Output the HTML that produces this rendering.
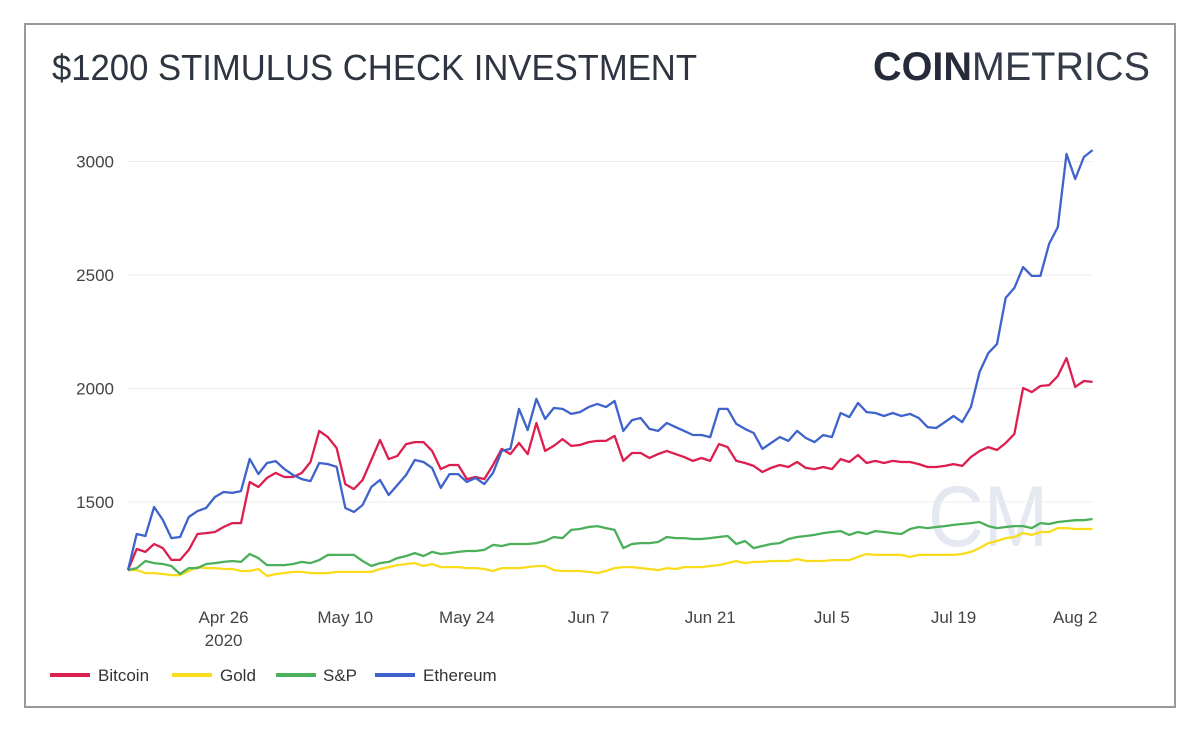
<!DOCTYPE html>
<html><head><meta charset="utf-8"><style>
body{margin:0;background:#fff;width:1200px;height:732px;overflow:hidden;font-family:"Liberation Sans",sans-serif}
</style></head><body>
<svg width="1200" height="732" viewBox="0 0 1200 732">
<rect x="25" y="24" width="1150" height="683" fill="#fff" stroke="#999" stroke-width="2"/>
<text x="52" y="80" font-size="36" fill="#2e3440" textLength="645" lengthAdjust="spacingAndGlyphs">$1200 STIMULUS CHECK INVESTMENT</text>
<text x="873" y="80" font-size="40" fill="#262b3a" textLength="277" lengthAdjust="spacingAndGlyphs"><tspan font-weight="bold">COIN</tspan><tspan font-weight="normal" fill="#353a48">METRICS</tspan></text>
<text x="928" y="546" font-size="86" fill="#e4e8f0" textLength="120" lengthAdjust="spacingAndGlyphs">CM</text>
<g id="grid"></g><g id="ylab"></g><g id="xlab"></g><g id="series"></g>
<g>
<line x1="50" y1="675" x2="90" y2="675" stroke="#dc1f4e" stroke-width="4"/>
<text x="98" y="681" font-size="17" fill="#333">Bitcoin</text>
<line x1="172" y1="675" x2="212" y2="675" stroke="#f9dd1c" stroke-width="4"/>
<text x="220" y="681" font-size="17" fill="#333">Gold</text>
<line x1="276" y1="675" x2="316" y2="675" stroke="#4caf5a" stroke-width="4"/>
<text x="323" y="681" font-size="17" fill="#333">S&amp;P</text>
<line x1="375" y1="675" x2="415" y2="675" stroke="#3f63cc" stroke-width="4"/>
<text x="423" y="681" font-size="17" fill="#333">Ethereum</text>
</g>
</svg>
<script>
const yTicks=[1500,2000,2500,3000];
const xTickLabels=["Apr 26","May 10","May 24","Jun 7","Jun 21","Jul 5","Jul 19","Aug 2"];
const xTickDays=[11,25,39,53,67,81,95,109];
const ethereum=[1200,1359,1350,1478,1421,1341,1346,1434,1460,1474,1522,1544,1540,1548,1690,1623,1672,1680,1645,1619,1601,1592,1672,1667,1655,1474,1456,1487,1566,1597,1531,1575,1619,1685,1676,1650,1562,1623,1623,1588,1606,1579,1628,1725,1734,1910,1817,1954,1866,1914,1910,1888,1896,1918,1932,1918,1945,1813,1861,1870,1822,1813,1848,1830,1813,1795,1795,1786,1910,1910,1844,1822,1804,1734,1760,1786,1769,1813,1782,1764,1795,1786,1892,1874,1936,1896,1892,1879,1892,1879,1888,1870,1830,1826,1852,1879,1852,1918,2073,2156,2196,2399,2443,2535,2496,2496,2637,2711,3033,2923,3020,3050];
const bitcoin=[1200,1293,1280,1315,1297,1245,1245,1289,1359,1363,1368,1390,1407,1407,1588,1566,1606,1628,1610,1610,1628,1676,1813,1786,1738,1579,1557,1597,1685,1773,1689,1703,1755,1764,1764,1725,1645,1663,1663,1601,1610,1601,1663,1734,1711,1760,1711,1848,1725,1747,1777,1747,1751,1764,1769,1769,1791,1681,1716,1716,1694,1711,1725,1711,1698,1681,1694,1681,1755,1742,1681,1672,1659,1632,1650,1663,1654,1676,1650,1645,1654,1645,1689,1676,1707,1672,1681,1672,1681,1676,1676,1667,1654,1654,1659,1667,1659,1698,1725,1742,1729,1760,1800,2002,1984,2011,2015,2055,2134,2007,2033,2029];
const sp=[1200,1209,1240,1231,1227,1218,1183,1209,1209,1227,1231,1236,1240,1236,1271,1253,1222,1222,1222,1227,1236,1231,1244,1267,1267,1267,1267,1240,1218,1231,1236,1253,1262,1275,1262,1280,1271,1275,1280,1284,1284,1289,1311,1306,1315,1315,1315,1319,1328,1346,1341,1377,1381,1390,1394,1385,1377,1297,1315,1319,1319,1324,1346,1341,1341,1337,1337,1341,1346,1350,1315,1328,1297,1306,1315,1319,1337,1346,1350,1355,1363,1368,1372,1355,1368,1359,1372,1368,1363,1359,1381,1390,1385,1390,1394,1399,1403,1407,1412,1394,1385,1390,1394,1394,1385,1407,1403,1412,1416,1420,1420,1425];
const gold=[1200,1200,1187,1187,1183,1178,1178,1196,1213,1209,1209,1205,1205,1196,1196,1205,1174,1183,1187,1192,1192,1187,1187,1187,1192,1192,1192,1192,1192,1205,1213,1222,1227,1231,1218,1227,1213,1213,1213,1209,1209,1205,1196,1209,1209,1209,1213,1218,1218,1200,1196,1196,1196,1192,1187,1196,1209,1213,1213,1209,1205,1200,1209,1205,1213,1213,1213,1218,1222,1231,1240,1231,1236,1236,1240,1240,1240,1249,1240,1240,1240,1244,1244,1244,1258,1271,1267,1267,1267,1267,1258,1267,1267,1267,1267,1267,1271,1280,1297,1319,1328,1341,1346,1363,1355,1368,1368,1385,1385,1381,1381,1381];
const NS="http://www.w3.org/2000/svg";
const X0=128,DX=8.69,Y1500=502,PXPER=113.5/500;
function xs(i){return X0+i*DX;}
function ys(v){return Y1500-(v-1500)*PXPER;}
function mk(t,a,p){const e=document.createElementNS(NS,t);for(const k in a)e.setAttribute(k,a[k]);p.appendChild(e);return e;}
const grid=document.getElementById('grid'),yl=document.getElementById('ylab'),xl=document.getElementById('xlab'),sg=document.getElementById('series');
yTicks.forEach(v=>{
 const l=mk('line',{x1:128,x2:1092,y1:ys(v),y2:ys(v),stroke:'#ececec','stroke-width':1},grid);
 
 
 const t=mk('text',{x:114,y:ys(v)+6,'text-anchor':'end','font-size':17,fill:'#444'},yl);
 t.textContent=v;
 
 
});
xTickLabels.forEach((s,k)=>{
 const t=mk('text',{x:xs(xTickDays[k]),y:623,'text-anchor':'middle','font-size':17,fill:'#444'},xl);
 t.textContent=s;
 
 
});
const yr=mk('text',{x:xs(xTickDays[0]),y:646,'text-anchor':'middle','font-size':17,fill:'#444'},xl);
yr.textContent='2020';


[[gold,'#f9dd1c','gold'],[sp,'#4caf5a','sp'],[bitcoin,'#dc1f4e','bitcoin'],[ethereum,'#3f63cc','ethereum']].forEach(([d,c,n])=>{
 const p=mk('polyline',{points:d.map((v,i)=>xs(i).toFixed(1)+','+ys(v).toFixed(1)).join(' '),fill:'none',stroke:c,'stroke-width':2.3,'stroke-linejoin':'round'},sg);
 
 
});
</script>
</body></html>
